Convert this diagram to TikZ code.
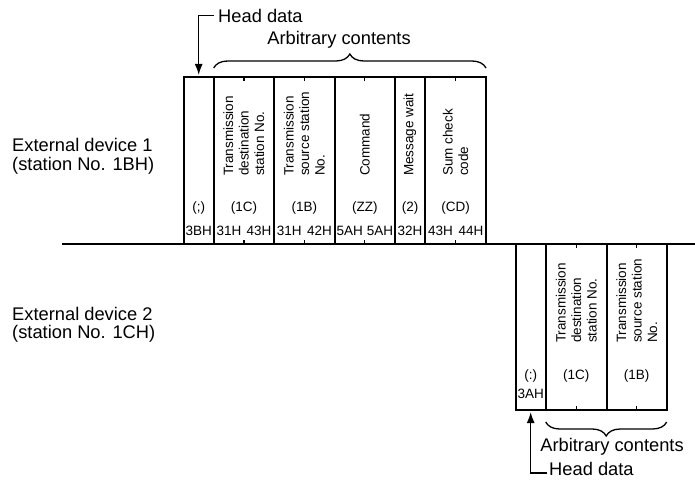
\documentclass[tikz,border=0pt]{standalone}
\usepackage{fontspec}
\setmainfont{Liberation Sans}
\usetikzlibrary{arrows.meta,decorations.pathreplacing}
\begin{document}
\begin{tikzpicture}[x=1pt,y=-1pt,
  frameline/.style={line width=2pt},
  tickline/.style={line width=1.2pt},
  bigtxt/.style={font=\fontsize{18.3}{18.3}\selectfont, inner sep=0pt},
  smalltxt/.style={font=\fontsize{13.5}{15.5}\selectfont, inner sep=0pt},
  rottxt/.style={smalltxt, rotate=90, anchor=west, align=left},
  bracestyle/.style={decorate, decoration={brace, amplitude=14pt}, line width=1.3pt},
  headarrow/.style={line width=1.5pt, -{Latex[length=11pt,width=8pt]}},
]
\useasboundingbox (0,0) rectangle (695,489);

% left labels
\node[bigtxt, anchor=base west] (d1a) at (12,152) {External device 1};
\node[bigtxt, anchor=base west] (d1b) at (12,171) {(station No. 1BH)};
\node[bigtxt, anchor=base west] (d2a) at (12,320) {External device 2};
\node[bigtxt, anchor=base west] (d2b) at (12,338.5) {(station No. 1CH)};

% transmission line
\draw[line width=2.3pt] (62,244) coordinate (lineL) -- (695,244) coordinate (lineR);

% ---------- upper frame ----------
\draw[frameline] (183.7,244) -- (183.7,77) -- (486,77) -- (486,244);
\foreach \x in {213.7,274,334.7,395,425}
  \draw[frameline] (\x,77) -- (\x,244);
\foreach \x in {243.9,304.3,364.8,455.5}{
  \draw[tickline] (\x,77) -- (\x,81);
  \draw[tickline] (\x,244) -- (\x,240);
}

\node[rottxt] (u1) at (243.9,176) {Transmission\\destination\\station No.};
\node[rottxt] (u2) at (304.3,176) {Transmission\\source station\\No.};
\node[rottxt] (u3) at (364.8,176) {Command};
\node[rottxt] (u4) at (410,176) {Message wait};
\node[rottxt] (u5) at (455.5,176) {Sum check\\code};

\node[smalltxt] (p0) at (198.7,208) {(;)};
\node[smalltxt] (p1) at (243.9,208) {(1C)};
\node[smalltxt] (p2) at (304.3,208) {(1B)};
\node[smalltxt] (p3) at (364.8,208) {(ZZ)};
\node[smalltxt] (p4) at (410,208) {(2)};
\node[smalltxt] (p5) at (455.5,208) {(CD)};

\node[smalltxt] (h0) at (198.7,230.5) {3BH};
\node[smalltxt] (h1) at (229,230.5) {31H};
\node[smalltxt] (h2) at (259,230.5) {43H};
\node[smalltxt] (h3) at (289.3,230.5) {31H};
\node[smalltxt] (h4) at (319.5,230.5) {42H};
\node[smalltxt] (h5) at (349.8,230.5) {5AH};
\node[smalltxt] (h6) at (380,230.5) {5AH};
\node[smalltxt] (h7) at (410,230.5) {32H};
\node[smalltxt] (h8) at (440.5,230.5) {43H};
\node[smalltxt] (h9) at (471,230.5) {44H};

% head data / arbitrary (upper)
\node[bigtxt, anchor=west] (hdU) at (218,15.5) {Head data};
\coordinate (tipU) at (198.7,75);
\draw[headarrow] (hdU.west) ++(-4,0) -| (tipU);
\node[bigtxt] (arU) at (339,40) {Arbitrary contents};
\draw[bracestyle] (213.7,68) coordinate (brUL) -- (486,68) coordinate (brUR);

% ---------- lower frame ----------
\draw[frameline] (515.7,244) -- (515.7,410) -- (666.7,410) -- (666.7,244);
\foreach \x in {545.7,606.7}
  \draw[frameline] (\x,244) -- (\x,410);
\foreach \x in {576.2,636.7}{
  \draw[tickline] (\x,244) -- (\x,248);
  \draw[tickline] (\x,410) -- (\x,406);
}

\node[rottxt] (l1) at (576.2,343) {Transmission\\destination\\station No.};
\node[rottxt] (l2) at (636.7,343) {Transmission\\source station\\No.};

\node[smalltxt] (q0) at (530.7,376.5) {(:)};
\node[smalltxt] (q1) at (576.2,376.5) {(1C)};
\node[smalltxt] (q2) at (636.7,376.5) {(1B)};
\node[smalltxt] (g0) at (530.7,393.5) {3AH};

% head data / arbitrary (lower)
\draw[bracestyle] (666.7,422) coordinate (brLR) -- (545.7,422) coordinate (brLL);
\node[bigtxt] (arL) at (612,447) {Arbitrary contents};
\node[bigtxt, anchor=west] (hdL) at (549,469) {Head data};
\coordinate (tipL) at (530.7,412);
\draw[headarrow] (hdL.west) ++(-2,4) -| (tipL);
\end{tikzpicture}
\end{document}
